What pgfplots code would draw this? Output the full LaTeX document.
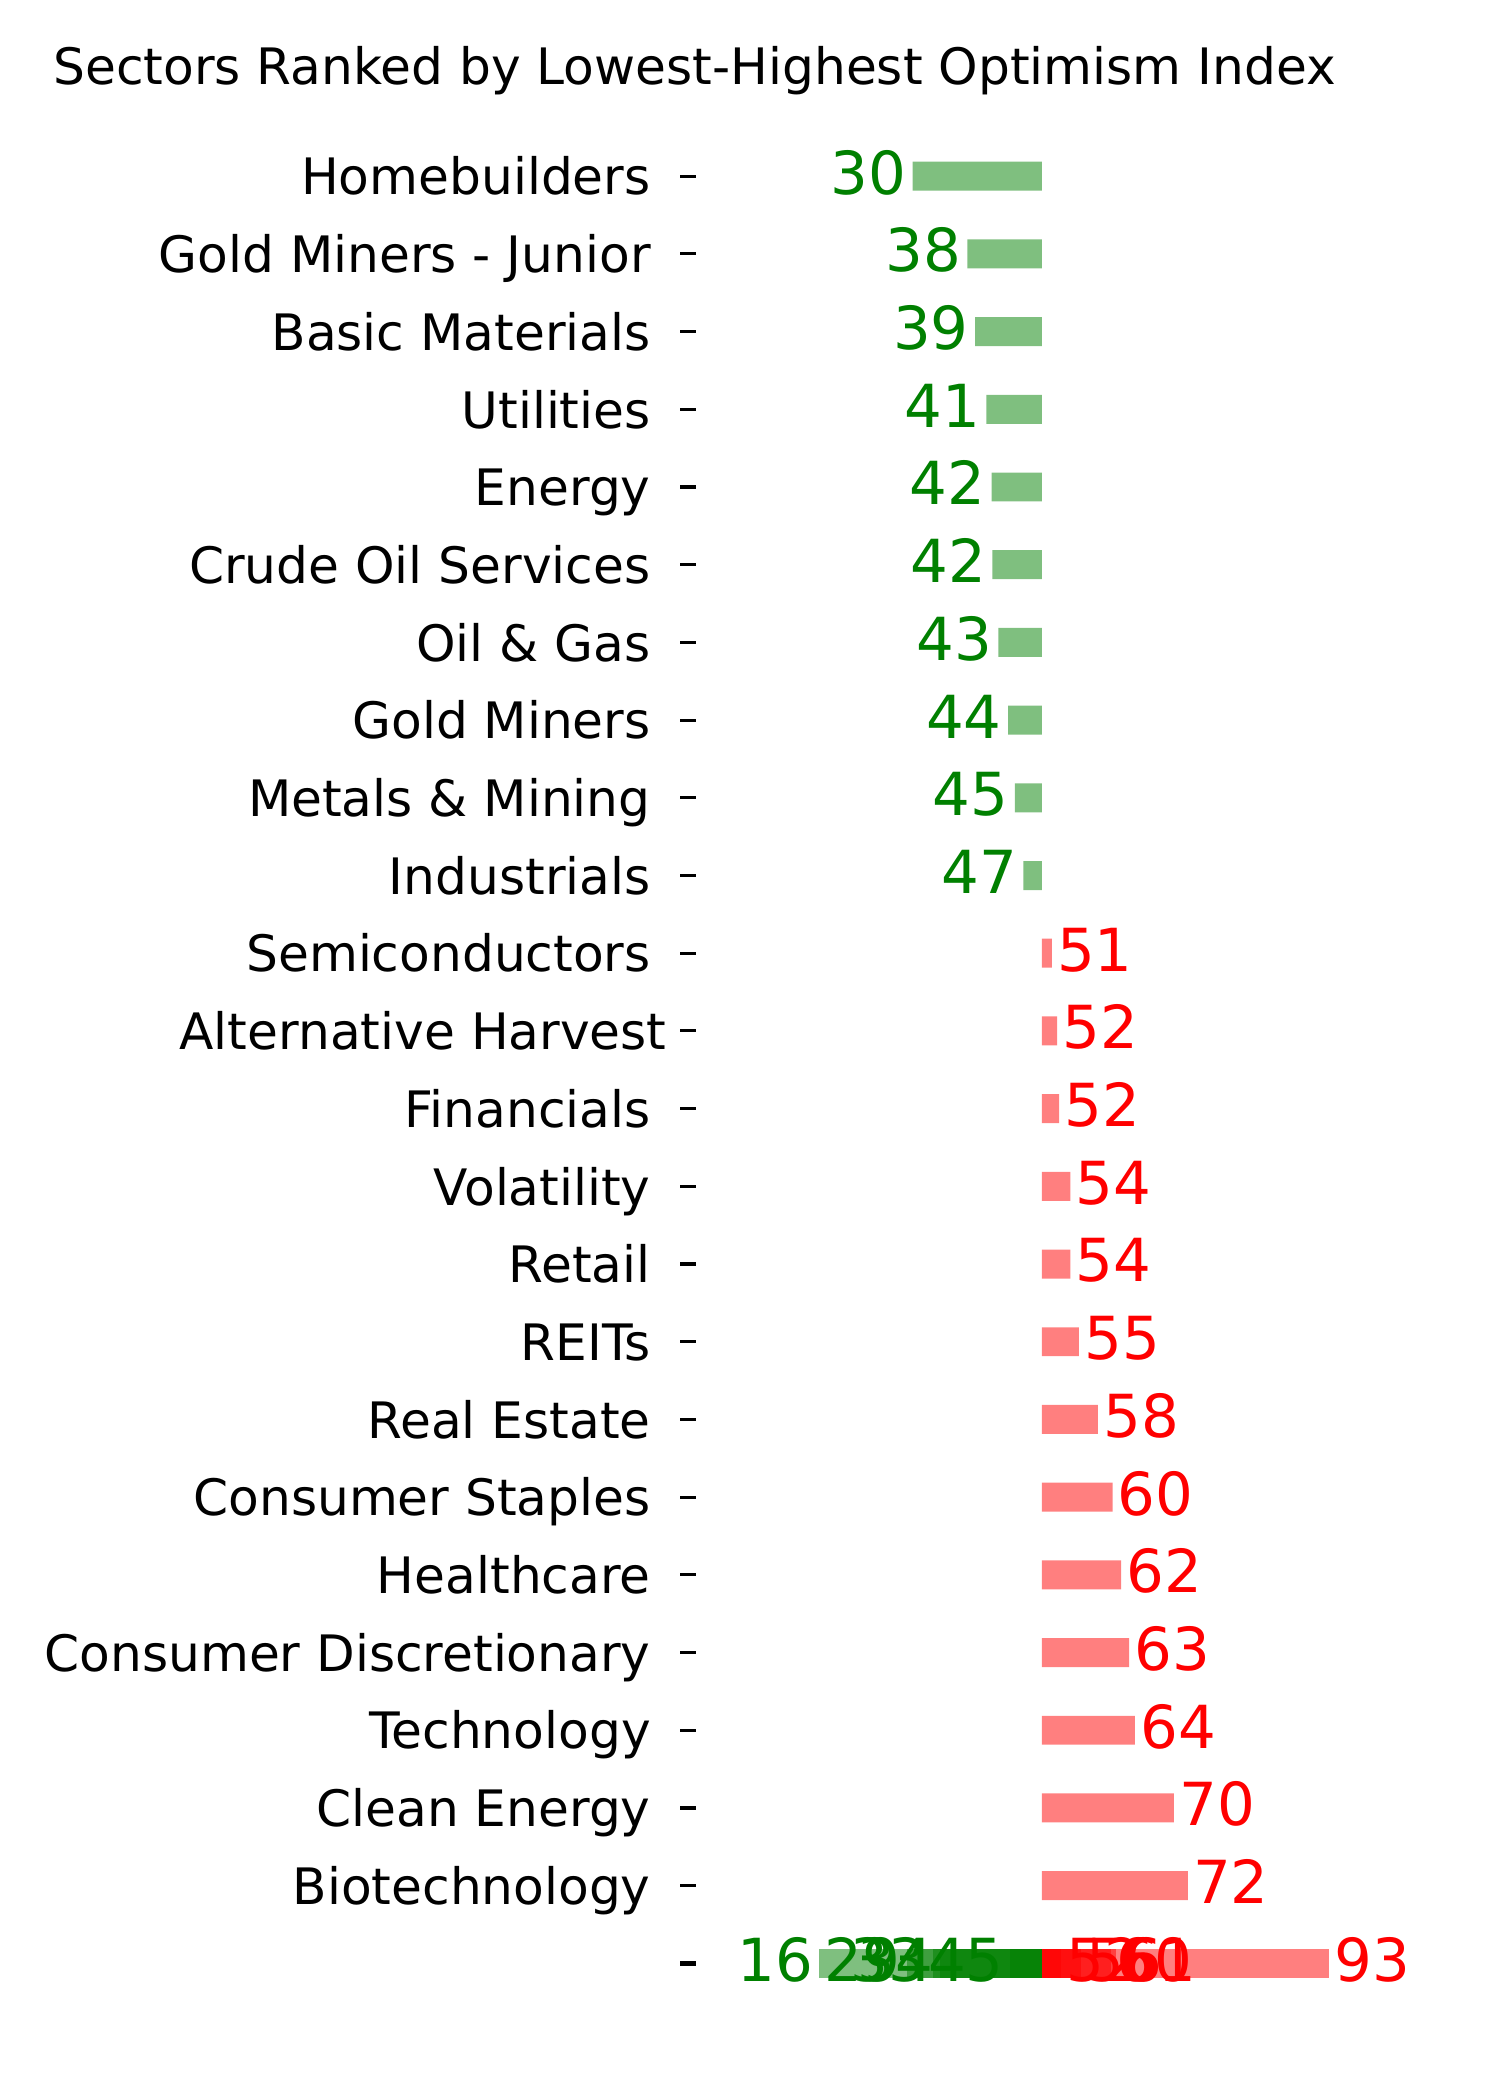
\documentclass[border=0pt]{standalone}
\usepackage{pgfplots}
\pgfplotsset{compat=1.18}
\usepackage{pgfplotstable}
\usepackage{fontspec}
\setmainfont{DejaVu Sans}
\definecolor{mgreen}{RGB}{0,128,0}
\definecolor{mred}{RGB}{255,0,0}

% r = row (0 = top), v = index value, lab = printed label
\pgfplotstableread{
r v lab
0 30.4 30
1 38.7 38
2 39.9 39
3 41.6 41
4 42.4 42
5 42.5 42
6 43.4 43
7 44.9 44
8 45.9 45
9 47.2 47
}\greentab

\pgfplotstableread{
r v lab
10 51.5 51
11 52.3 52
12 52.6 52
13 54.3 54
14 54.3 54
15 55.6 55
16 58.5 58
17 60.7 60
18 62.0 62
19 63.2 63
20 64.1 64
21 70.0 70
22 72.1 72
}\redtab

% unnamed bottom row: rows 0-4 green, rows 5-9 red
\pgfplotstableread{
r v lab
23 16.3 16
23 29.5 29
23 33.5 33
23 34.5 34
23 45.2 45
23 52.9 52
23 56.0 56
23 60.5 60
23 61.2 61
23 93.5 93
}\bottomtab

\newcommand{\valfont}{\fontsize{28.5bp}{34bp}\selectfont}
\newcommand{\labfont}{\fontsize{24.1bp}{29bp}\selectfont}

\pgfplotsset{
  gbar/.style={xbar, bar width=13.9bp, bar shift=0pt, draw=none, fill=mgreen, fill opacity=0.5,
    nodes near coords={\pgfplotspointmeta}, point meta=explicit symbolic,
    every node near coord/.append style={anchor=base east, inner sep=0pt, xshift=-2.9bp, yshift=-8.6bp,
      text=mgreen, fill opacity=1, text opacity=1, font=\valfont}},
  rbar/.style={xbar, bar width=13.9bp, bar shift=0pt, draw=none, fill=mred, fill opacity=0.5,
    nodes near coords={\pgfplotspointmeta}, point meta=explicit symbolic,
    every node near coord/.append style={anchor=base west, inner sep=0pt, xshift=2.4bp, yshift=-8.6bp,
      text=mred, fill opacity=1, text opacity=1, font=\valfont}},
}

\begin{document}
\begin{tikzpicture}
\path[use as bounding box, fill=white] (0,0) rectangle (720bp,1008bp);
\node[anchor=base west, inner sep=0pt, font=\labfont] at (25.4bp,967.4bp)
  {Sectors Ranked by Lowest-Highest Optimism Index};
\begin{axis}[
  at={(334.1bp,39.5bp)}, anchor=south west,
  x=3.168bp, y=37.296bp, y dir=reverse,
  xmin=-52.4, xmax=47, ymin=-0.7, ymax=23.7,
  hide x axis,
  axis line style={draw=none},
  ytick pos=left,
  tick align=outside,
  major tick length=7.7bp,
  major tick style={black, line width=1.5bp},
  ytick={0,...,22},
  yticklabels={Homebuilders, Gold Miners - Junior, Basic Materials, Utilities, Energy,
    Crude Oil Services, Oil \& Gas, Gold Miners, Metals \& Mining, Industrials,
    Semiconductors, Alternative Harvest\kern-7.7bp, Financials, Volatility, Retail, REITs,
    Real Estate, Consumer Staples, Healthcare, Consumer Discretionary, Technology,
    Clean Energy, Biotechnology},
  yticklabel style={anchor=base east, inner sep=0pt, xshift=-13.9bp, yshift=-9bp, font=\labfont},
  extra y ticks={23},
  extra y tick labels={},
  extra y tick style={major tick style={black, line width=2.4bp}},
  clip=false,
]
\addplot[gbar] table[x expr=\thisrow{v}-50, y=r, meta=lab] {\greentab};
\addplot[rbar] table[x expr=\thisrow{v}-50, y=r, meta=lab] {\redtab};

\addplot[gbar, skip coords between index={1}{10}] table[x expr=\thisrow{v}-50, y=r, meta=lab] {\bottomtab};
\addplot[gbar, skip coords between index={0}{1}, skip coords between index={2}{10}] table[x expr=\thisrow{v}-50, y=r, meta=lab] {\bottomtab};
\addplot[gbar, skip coords between index={0}{2}, skip coords between index={3}{10}] table[x expr=\thisrow{v}-50, y=r, meta=lab] {\bottomtab};
\addplot[gbar, skip coords between index={0}{3}, skip coords between index={4}{10}] table[x expr=\thisrow{v}-50, y=r, meta=lab] {\bottomtab};
\addplot[gbar, skip coords between index={0}{4}, skip coords between index={5}{10}] table[x expr=\thisrow{v}-50, y=r, meta=lab] {\bottomtab};
\addplot[rbar, skip coords between index={0}{5}, skip coords between index={6}{10}] table[x expr=\thisrow{v}-50, y=r, meta=lab] {\bottomtab};
\addplot[rbar, skip coords between index={0}{6}, skip coords between index={7}{10}] table[x expr=\thisrow{v}-50, y=r, meta=lab] {\bottomtab};
\addplot[rbar, skip coords between index={0}{7}, skip coords between index={8}{10}] table[x expr=\thisrow{v}-50, y=r, meta=lab] {\bottomtab};
\addplot[rbar, skip coords between index={0}{8}, skip coords between index={9}{10}] table[x expr=\thisrow{v}-50, y=r, meta=lab] {\bottomtab};
\addplot[rbar, skip coords between index={0}{9}] table[x expr=\thisrow{v}-50, y=r, meta=lab] {\bottomtab};
\end{axis}
\end{tikzpicture}
\end{document}
